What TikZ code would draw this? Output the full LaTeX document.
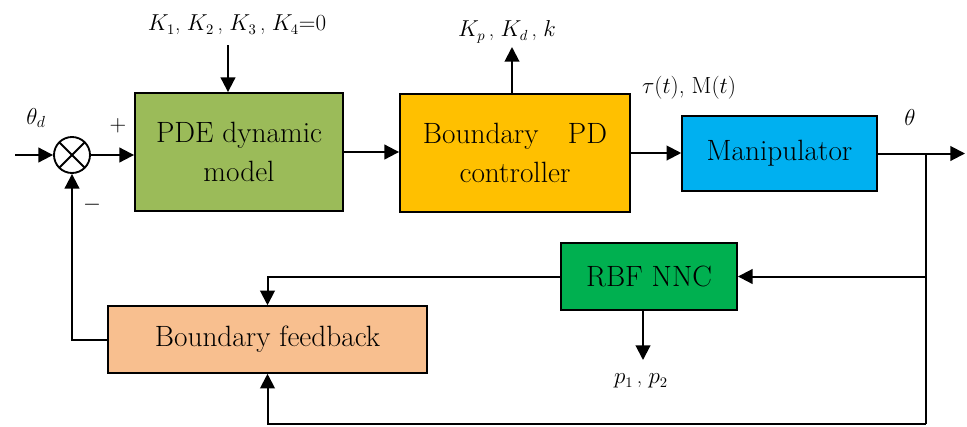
\documentclass[tikz,border=0pt]{standalone}
\usetikzlibrary{arrows.meta}

\definecolor{pdegreen}{HTML}{9BBB59}
\definecolor{pdyellow}{HTML}{FFC000}
\definecolor{manipblue}{HTML}{00B0F0}
\definecolor{rbfgreen}{HTML}{00B050}
\definecolor{fborange}{HTML}{F8BF8F}

\tikzset{every picture/.style={line width=1.5pt}}
\tikzset{
  blk/.style={draw, line width=1.4pt, rectangle, align=center, inner sep=0pt,
    font=\fontsize{22}{29}\selectfont},
  lbl/.style={inner sep=0pt, font=\fontsize{16}{19}\selectfont},
  sig/.style={-{Triangle[length=11pt,width=11pt]}},
}

\begin{document}
\begin{tikzpicture}[x=0.75pt,y=0.75pt,yscale=-1,xscale=1]
\useasboundingbox (0,0) rectangle (967,426);

% Summing junction
\node[draw, circle, minimum size=27pt, inner sep=0pt, line width=1.4pt,
  path picture={
    \draw (path picture bounding box.north west) -- (path picture bounding box.south east);
    \draw (path picture bounding box.north east) -- (path picture bounding box.south west);
  }] (sum) at (72,155) {};

% Blocks
\node[blk, fill=pdegreen, minimum width=156pt, minimum height=88.5pt] (pde) at (239,152) {PDE dynamic\\model};
\node[blk, fill=pdyellow, minimum width=172.5pt, minimum height=88.5pt] (pd) at (515,153) {Boundary\quad PD\\controller};
\node[blk, fill=manipblue, minimum width=146pt, minimum height=56pt] (manip) at (779.5,153.5) {Manipulator};
\node[blk, fill=rbfgreen, minimum width=132pt, minimum height=50pt] (rbf) at (649,276.5) {RBF NNC};
\node[blk, fill=fborange, minimum width=239pt, minimum height=50pt] (fb) at (267.5,339.5) {Boundary feedback};

% Text Node
\node[lbl, font=\fontsize{18}{21}\selectfont] (thd) at (36,118) {$\theta_d$};
\node[lbl] (plus) at (118,126) {$+$};
\node[lbl] (minus) at (92,205) {$-$};
\node[lbl] (kgain) at (237,25) {$K_1$, $K_2$\,, $K_3$\,, $K_4{=}0$};
\node[lbl] (kpd) at (507,32) {$K_p$\,, $K_d$\,, $k$};
\node[lbl, font=\fontsize{17.5}{21}\selectfont] (tau) at (689,88) {$\tau(t)$, M$(t)$};
\node[lbl, font=\fontsize{18}{21}\selectfont] (th) at (910,117) {$\theta$};
\node[lbl] (pp) at (641,381) {$p_1$\,, $p_2$};

% Free ends
\coordinate (thin) at (15,155);
\coordinate (kin) at (228,45);
\coordinate (kout) at (512,47);
\coordinate (br) at (926,153.5);
\coordinate (out) at (965,153.5);
\coordinate (bot) at (926,424);
\coordinate (pout) at (643,360);

% Connection
\draw[sig] (thin) -- (sum.west);
\draw[sig] (sum.east) -- (sum -| pde.west);
\draw[sig] (kin) -- (kin |- pde.north);
\draw[sig] (pde.east) -- (pde.east -| pd.west);
\draw[sig] (kout |- pd.north) -- (kout);
\draw[sig] (pd.east) -- (pd.east -| manip.west);
\draw[sig] (manip.east) -- (out);
\draw (br) -- (bot);
\draw[sig] (br |- rbf.east) -- (rbf.east);
\draw[sig] (rbf.west) -| (fb.north);
\draw[sig] (pout |- rbf.south) -- (pout);
\draw[sig] (bot) -| (fb.south);
\draw[sig] (fb.west) -| (sum.south);

\end{tikzpicture}
\end{document}
